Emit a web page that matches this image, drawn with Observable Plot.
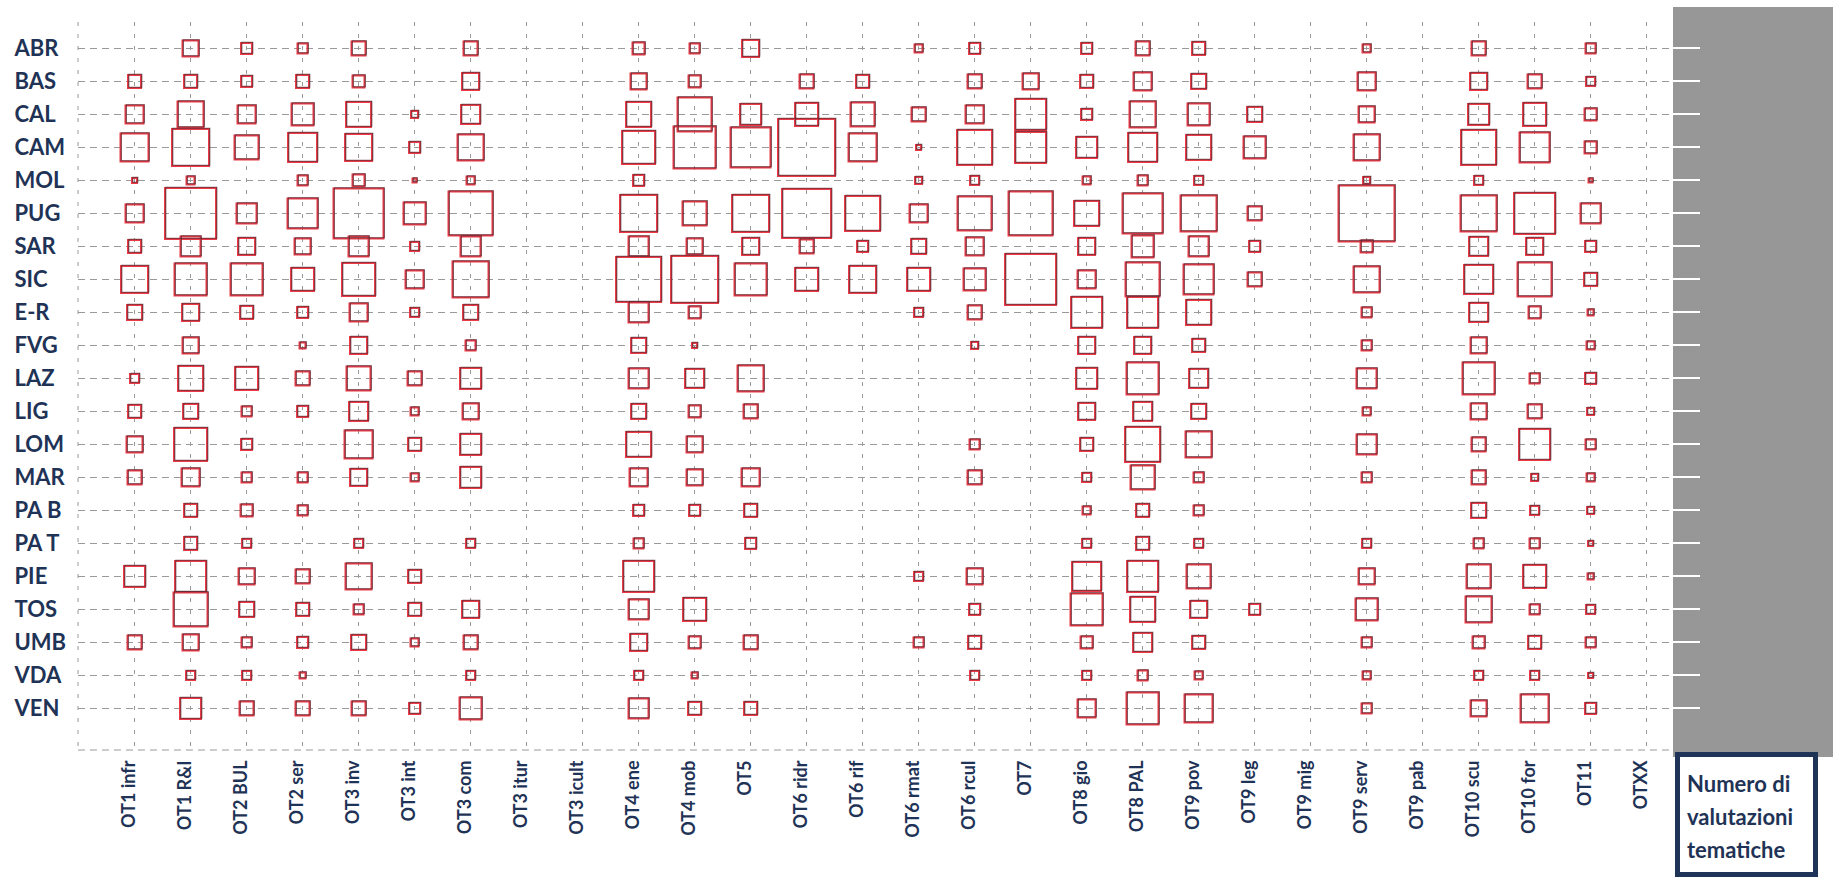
<!DOCTYPE html>
<html>
<head>
<meta charset="utf-8">
<script src="https://cdn.jsdelivr.net/npm/d3@7"></script>
<script src="https://cdn.jsdelivr.net/npm/@observablehq/plot@0.6"></script>
<style>
  html, body { margin: 0; padding: 0; background: #fff; overflow: hidden; }
  #wrap { position: relative; width: 1833px; height: 879px; }
  #panel { position: absolute; left: 1673px; top: 7px; width: 160px; height: 750px; background: #979797; }
  #legendbox { position: absolute; left: 1675px; top: 752px; width: 126px; height: 115px;
    border: 5px solid #1f3356; background: #fff; box-sizing: content-box;
    font-family: Lato, "Open Sans", sans-serif; font-weight: bold; font-size: 22px; line-height: 33px;
    color: #1f3356; padding: 0 0 0 7px; }
  #legendbox div:first-child { margin-top: 10px; }
  #chart { position: absolute; left: 0; top: 0; }
</style>
</head>
<body>
<div id="wrap">
  <div id="panel"></div>
  <div id="chart"></div>
  <div id="legendbox"><div>Numero di</div><div>valutazioni</div><div>tematiche</div></div>
</div>
<script>
const regioni = ["ABR","BAS","CAL","CAM","MOL","PUG","SAR","SIC","E-R","FVG","LAZ","LIG","LOM","MAR","PA B","PA T","PIE","TOS","UMB","VDA","VEN"];
const obiettivi = ["OT1 infr","OT1 R&I","OT2 BUL","OT2 ser","OT3 inv","OT3 int","OT3 com","OT3 itur","OT3 icult","OT4 ene","OT4 mob","OT5","OT6 ridr","OT6 rif","OT6 rmat","OT6 rcul","OT7","OT8 gio","OT8 PAL","OT9 pov","OT9 leg","OT9 mig","OT9 serv","OT9 pab","OT10 scu","OT10 for","OT11","OTXX"];

// numero di valutazioni tematiche (relative), one list per region, in the order of obiettivi
const ABR  = [0,16,11,10,14,0,14,0,0,12,10,17,0,0,8,11,0,11,14,13,0,0,8,0,14,0,10,0];
const BAS  = [13,13,11,13,12,0,17,0,0,16,12,0,14,13,0,14,16,13,18,15,0,0,18,0,17,14,9,0];
const CAL  = [18,26,18,22,25,7,19,0,0,25,34,21,23,24,14,18,31,11,26,22,15,0,16,0,21,23,12,0];
const CAM  = [28,37,24,29,27,11,26,0,0,33,42,40,57,28,5,35,31,21,29,25,22,0,26,0,35,30,12,0];
const MOL  = [5,8,0,10,12,4,8,0,0,11,0,0,0,0,7,9,0,8,10,9,0,0,7,0,9,0,4,0];
const PUG  = [18,51,20,30,50,22,44,0,0,37,24,37,49,35,18,34,44,25,40,36,14,0,56,0,36,41,20,0];
const SAR  = [13,20,17,16,20,9,20,0,0,20,16,17,14,11,15,18,0,17,22,20,11,0,12,0,19,17,11,0];
const SIC  = [27,32,32,23,33,18,36,0,0,45,47,32,23,27,23,22,51,18,34,30,14,0,26,0,29,34,13,0];
const ER   = [15,17,13,11,18,9,15,0,0,20,12,0,0,0,9,14,0,31,31,25,0,0,10,0,19,12,6,0];
const FVG  = [0,16,0,6,17,0,10,0,0,15,5,0,0,0,0,7,0,17,17,13,0,0,10,0,16,0,8,0];
const LAZ  = [9,25,23,14,24,14,21,0,0,20,19,26,0,0,0,0,0,21,32,19,0,0,20,0,32,10,11,0];
const LIG  = [13,15,10,11,19,8,16,0,0,15,12,14,0,0,0,0,0,17,19,15,0,0,8,0,16,14,7,0];
const LOM  = [16,33,11,0,28,13,21,0,0,25,16,0,0,0,0,10,0,13,35,26,0,0,20,0,14,31,10,0];
const MAR  = [14,18,10,10,17,8,21,0,0,18,16,18,0,0,0,14,0,9,24,10,0,0,10,0,14,7,8,0];
const PAB  = [0,13,12,10,0,0,0,0,0,11,11,13,0,0,0,0,0,8,13,10,0,0,0,0,15,9,7,0];
const PAT  = [0,13,9,0,9,0,9,0,0,10,0,11,0,0,0,0,0,9,13,9,0,0,9,0,10,10,5,0];
const PIE  = [21,31,16,14,26,13,0,0,0,31,0,0,0,0,9,16,0,29,31,24,0,0,16,0,24,23,6,0];
const TOS  = [0,34,15,13,10,13,17,0,0,20,23,0,0,0,0,11,0,32,25,17,11,0,22,0,26,10,9,0];
const UMB  = [14,16,10,11,15,8,14,0,0,17,12,14,0,0,10,13,0,12,19,13,0,0,10,0,12,13,10,0];
const VDA  = [0,9,9,6,0,0,9,0,0,9,6,0,0,0,0,9,0,9,10,8,0,0,8,0,9,9,5,0];
const VEN  = [0,21,14,14,14,11,22,0,0,20,13,13,0,0,0,0,0,18,32,28,0,0,10,0,16,28,11,0];

const righe = [ABR,BAS,CAL,CAM,MOL,PUG,SAR,SIC,ER,FVG,LAZ,LIG,LOM,MAR,PAB,PAT,PIE,TOS,UMB,VDA,VEN];

const data = [];
regioni.forEach((reg, i) => {
  righe[i].forEach((v, j) => { if (v > 0) data.push({regione: reg, ot: obiettivi[j], n: v}); });
});

const navy = "#1f3356";
const gridColor = "#9a9a9a";
const vmax = d3.max(data, d => d.n);

const mTop = 22, mBottom = 129, mLeft = 78, mRight = 163, W = 1833, H = 879;

const plot = Plot.plot({
  width: W,
  height: H,
  marginTop: mTop,
  marginBottom: mBottom,
  marginLeft: mLeft,
  marginRight: mRight,
  style: {background: "transparent", fontFamily: "Lato, 'Open Sans', sans-serif"},
  x: {type: "point", domain: obiettivi, range: [132, 1648], padding: 0, axis: null},
  y: {type: "point", domain: regioni, range: [39, 717], padding: 0, axis: null},
  r: {type: "linear", domain: [0, vmax], range: [0, vmax / Math.sqrt(Math.PI)]},
  marks: [
    Plot.ruleY(regioni, {y: d => d, stroke: gridColor, strokeWidth: 1, strokeDasharray: "7,5"}),
    Plot.ruleX(obiettivi, {x: d => d, stroke: gridColor, strokeWidth: 1, strokeDasharray: "4,8"}),
    Plot.dot(data, {x: "ot", y: "regione", r: "n", symbol: "square", fill: "none", stroke: "#ec3b47", strokeWidth: 2}),
    Plot.dot(data, {x: "ot", y: "regione", r: "n", symbol: "square", fill: "none", stroke: "#4a2a33", strokeWidth: 1.1, strokeOpacity: 0.75, dx: 0.8, dy: -0.8}),
    Plot.text(regioni, {y: d => d, text: d => d, frameAnchor: "left", dx: -64, textAnchor: "start",
      fontSize: 22, fontWeight: "bold", fill: navy}),
    Plot.text(obiettivi, {x: d => d, text: d => d, frameAnchor: "bottom", dy: 10, rotate: -90, textAnchor: "end",
      fontSize: 18, fontWeight: "bold", fill: navy})
  ]
});

document.getElementById("chart").appendChild(plot);

// frame edges (left and bottom dashed lines) and white ticks on the grey panel
const svgSel = d3.select(plot);
const yScale = plot.scale("y");
const yTop = mTop, yBottom = H - mBottom, xLeft = mLeft, xRight = W - mRight;
svgSel.append("line").attr("x1", xLeft).attr("x2", xLeft).attr("y1", yTop).attr("y2", yBottom)
  .attr("stroke", gridColor).attr("stroke-dasharray", "4,8");
svgSel.append("line").attr("x1", xLeft).attr("x2", xRight).attr("y1", yBottom).attr("y2", yBottom)
  .attr("stroke", gridColor).attr("stroke-dasharray", "7,5");
svgSel.append("g").selectAll("line").data(regioni).join("line")
  .attr("x1", 1673).attr("x2", 1700)
  .attr("y1", d => yScale.apply(d)).attr("y2", d => yScale.apply(d))
  .attr("stroke", "#ffffff").attr("stroke-width", 2);
</script>
</body>
</html>
